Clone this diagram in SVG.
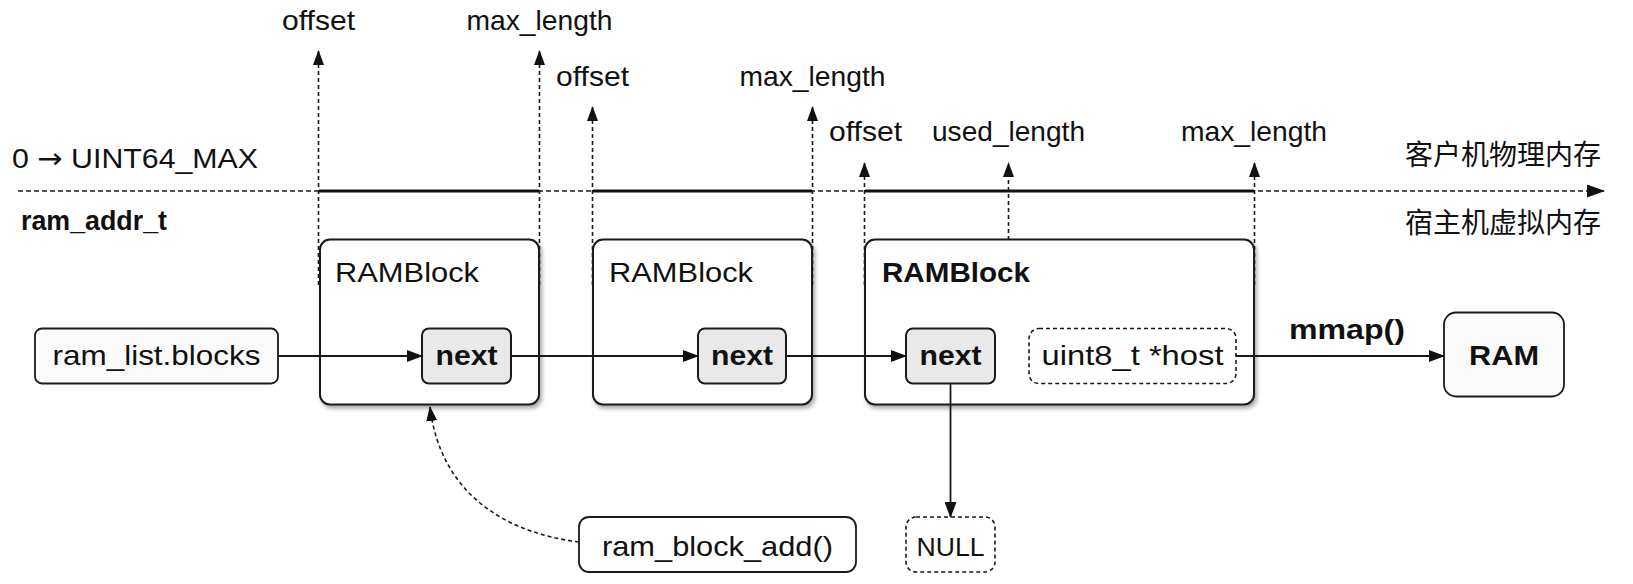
<svg xmlns="http://www.w3.org/2000/svg" width="1633" height="584" viewBox="0 0 1633 584">
<defs>
<style>
text{font-family:"Liberation Sans",Arial,sans-serif;font-size:28px;fill:#111}
.b{font-weight:bold}
.cjk{font-family:"Noto Sans CJK SC","Liberation Sans",sans-serif;font-size:28px}
.mid{text-anchor:middle}
.blk{fill:#fff;stroke:#1a1a1a;stroke-width:2}
.nx{fill:#e9e9e9;stroke:#1a1a1a;stroke-width:2}
.lt{fill:#fafafa;stroke:#1a1a1a;stroke-width:1.8}
.dbox{fill:#fff;stroke:#1a1a1a;stroke-width:1.6;stroke-dasharray:4 3}
.dl{fill:none;stroke:#1a1a1a;stroke-width:1.6;stroke-dasharray:4 3}
.sl{fill:none;stroke:#1a1a1a;stroke-width:1.8}
.thick{stroke:#111;stroke-width:3.2}
</style>
<marker id="ah" markerWidth="16" markerHeight="12" refX="15" refY="6" orient="auto" markerUnits="userSpaceOnUse"><path d="M0,0 L16,6 L0,12 z" fill="#111"/></marker>
<marker id="ahs" markerWidth="15" markerHeight="11" refX="14" refY="5.5" orient="auto" markerUnits="userSpaceOnUse"><path d="M0,0 L15,5.5 L0,11 z" fill="#111"/></marker>
<marker id="ahx" markerWidth="18" markerHeight="13" refX="17" refY="6.5" orient="auto" markerUnits="userSpaceOnUse"><path d="M0,0 L18,6.5 L0,13 z" fill="#111"/></marker>
<filter id="sh" x="-10%" y="-10%" width="130%" height="130%"><feDropShadow dx="2" dy="3" stdDeviation="2" flood-color="#000" flood-opacity="0.35"/></filter>
</defs>

<g id="axis">
<line class="dl" x1="18" y1="191" x2="1604" y2="191" marker-end="url(#ahx)" style="stroke-dasharray:5 3"/>
<line class="thick" x1="319" y1="191" x2="539" y2="191"/>
<line class="thick" x1="593" y1="191" x2="812" y2="191"/>
<line class="thick" x1="865" y1="191" x2="1254" y2="191"/>
<text x="12" y="168" textLength="246" lengthAdjust="spacingAndGlyphs">0 <tspan style="font-family:'DejaVu Sans',sans-serif">→</tspan> UINT64_MAX</text>
<text class="b" x="21" y="230" textLength="146" lengthAdjust="spacingAndGlyphs">ram_addr_t</text>
<text class="cjk" x="1405" y="165">客户机物理内存</text>
<text class="cjk" x="1405" y="233">宿主机虚拟内存</text>
</g>

<g id="markers">
<line class="dl" x1="318.5" y1="285" x2="318.5" y2="51" marker-end="url(#ahs)"/>
<line class="dl" x1="539.5" y1="285" x2="539.5" y2="51" marker-end="url(#ahs)"/>
<line class="dl" x1="592.5" y1="285" x2="592.5" y2="107" marker-end="url(#ahs)"/>
<line class="dl" x1="812.5" y1="285" x2="812.5" y2="107" marker-end="url(#ahs)"/>
<line class="dl" x1="864.5" y1="285" x2="864.5" y2="163" marker-end="url(#ahs)"/>
<line class="dl" x1="1008.5" y1="240" x2="1008.5" y2="163" marker-end="url(#ahs)"/>
<line class="dl" x1="1254.5" y1="285" x2="1254.5" y2="163" marker-end="url(#ahs)"/>
<text class="mid" x="318.5" y="30" textLength="73" lengthAdjust="spacingAndGlyphs">offset</text>
<text class="mid" x="539.5" y="30" textLength="146" lengthAdjust="spacingAndGlyphs">max_length</text>
<text class="mid" x="592.5" y="86" textLength="73" lengthAdjust="spacingAndGlyphs">offset</text>
<text class="mid" x="812.5" y="86" textLength="146" lengthAdjust="spacingAndGlyphs">max_length</text>
<text class="mid" x="865.5" y="141" textLength="73" lengthAdjust="spacingAndGlyphs">offset</text>
<text class="mid" x="1008.5" y="141" textLength="153" lengthAdjust="spacingAndGlyphs">used_length</text>
<text class="mid" x="1254" y="141" textLength="146" lengthAdjust="spacingAndGlyphs">max_length</text>
</g>

<g id="ramblock1">
<rect class="blk" x="320" y="239.5" width="219" height="165" rx="10" filter="url(#sh)"/>
<text x="335" y="282" textLength="144" lengthAdjust="spacingAndGlyphs">RAMBlock</text>
</g>
<g id="ramblock2">
<rect class="blk" x="593" y="239.5" width="219" height="165" rx="10" filter="url(#sh)"/>
<text x="609" y="282" textLength="144" lengthAdjust="spacingAndGlyphs">RAMBlock</text>
</g>
<g id="ramblock3">
<rect class="blk" x="865" y="239.5" width="389" height="165" rx="10" filter="url(#sh)"/>
<text class="b" x="882" y="282" textLength="148" lengthAdjust="spacingAndGlyphs">RAMBlock</text>
</g>

<g id="ram_list">
<rect class="lt" x="35" y="328.5" width="243" height="55" rx="7"/>
<text class="mid" x="156.5" y="365" textLength="208" lengthAdjust="spacingAndGlyphs">ram_list.blocks</text>
</g>
<g id="next1">
<rect class="nx" x="422" y="328.5" width="89" height="55" rx="7"/>
<text class="mid b" x="466.5" y="365" textLength="62" lengthAdjust="spacingAndGlyphs">next</text>
</g>
<g id="next2">
<rect class="nx" x="698" y="328.5" width="88" height="55" rx="7"/>
<text class="mid b" x="742" y="365" textLength="62" lengthAdjust="spacingAndGlyphs">next</text>
</g>
<g id="next3">
<rect class="nx" x="906" y="328.5" width="89" height="55" rx="7"/>
<text class="mid b" x="950.5" y="365" textLength="62" lengthAdjust="spacingAndGlyphs">next</text>
</g>
<g id="host">
<rect class="dbox" x="1029" y="328.5" width="207" height="55" rx="10"/>
<text class="mid" x="1132.5" y="365" textLength="182" lengthAdjust="spacingAndGlyphs">uint8_t *host</text>
</g>
<g id="ram">
<rect class="lt" x="1444" y="312.5" width="120" height="84" rx="12"/>
<text class="mid b" x="1504" y="365" textLength="70" lengthAdjust="spacingAndGlyphs">RAM</text>
</g>
<g id="ram_block_add">
<rect class="lt" x="579" y="517" width="277" height="55" rx="10" style="fill:#fff"/>
<text class="mid" x="717.5" y="556" textLength="231" lengthAdjust="spacingAndGlyphs">ram_block_add()</text>
</g>
<g id="null">
<rect class="dbox" x="906" y="517" width="89" height="55" rx="10"/>
<text class="mid" x="950.5" y="556" style="font-size:26px" textLength="68" lengthAdjust="spacingAndGlyphs">NULL</text>
</g>

<g id="connectors">
<line class="sl" x1="278" y1="356" x2="422" y2="356" marker-end="url(#ah)"/>
<line class="sl" x1="511" y1="356" x2="698" y2="356" marker-end="url(#ah)"/>
<line class="sl" x1="786" y1="356" x2="906" y2="356" marker-end="url(#ah)"/>
<line class="sl" x1="950.5" y1="383.5" x2="950.5" y2="517" marker-end="url(#ah)"/>
<line class="sl" x1="1236" y1="356" x2="1444" y2="356" marker-end="url(#ah)"/>
<path class="dl" d="M579,542 C500,532 440,490 430,407" marker-end="url(#ahs)"/>
<text class="b" x="1289" y="339" textLength="116" lengthAdjust="spacingAndGlyphs">mmap()</text>
</g>
</svg>
